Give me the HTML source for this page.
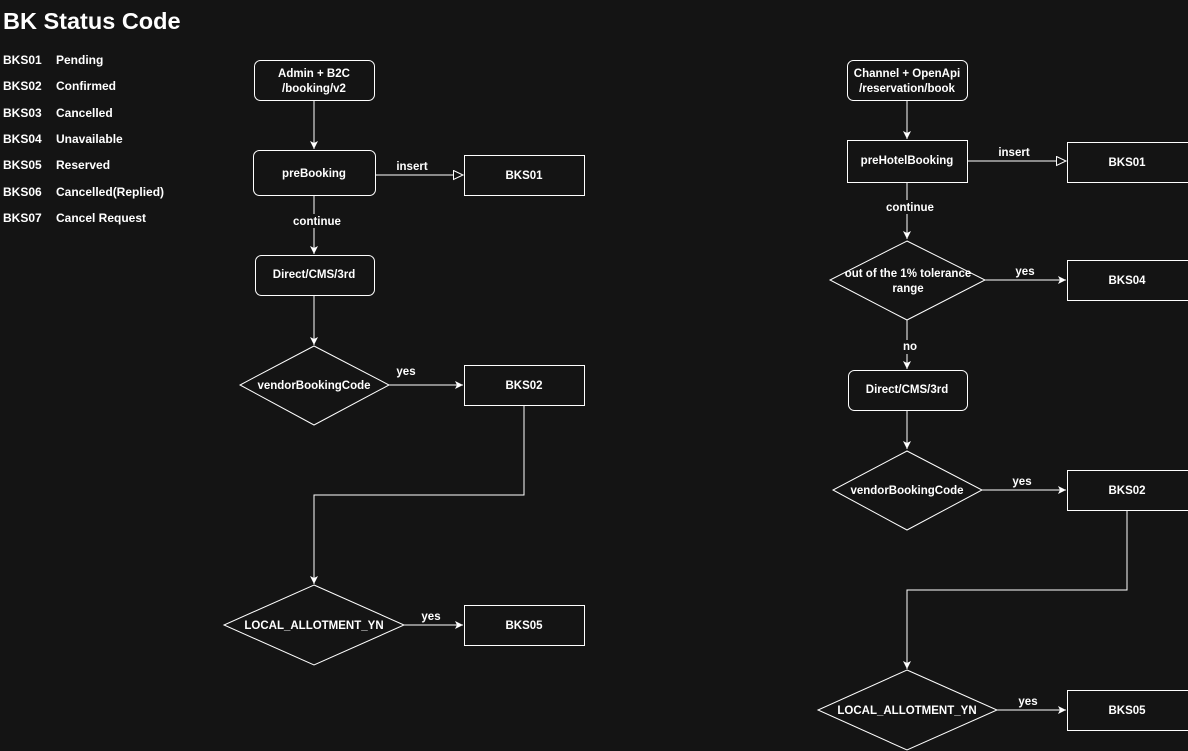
<!DOCTYPE html>
<html><head><meta charset="utf-8"><style>
html,body{margin:0;padding:0;background:#141414;}
svg{display:block}
text{font-family:"Liberation Sans",Arial,sans-serif;fill:#fff;font-size:12px;}
.c{text-anchor:middle;dominant-baseline:central}
.s{fill:none;stroke:#fff;stroke-width:1}
.b{fill:#141414;stroke:#fff;stroke-width:1}
.l{font-size:11.5px;font-weight:bold}
</style></head><body>
<svg width="1188" height="751" viewBox="0 0 1188 751" xmlns="http://www.w3.org/2000/svg">
<defs>
<marker id="a" markerWidth="10" markerHeight="10" refX="8" refY="4" orient="auto" markerUnits="userSpaceOnUse"><path d="M0,0 L8,4 L0,8 L2,4 Z" fill="#fff"/></marker>
<marker id="o" markerWidth="12" markerHeight="12" refX="10" refY="5" orient="auto" markerUnits="userSpaceOnUse"><path d="M0.5,0.5 L10,5 L0.5,9.5 Z" fill="#141414" stroke="#fff"/></marker>
</defs>
<text x="3" y="29" style="font-size:23.5px;font-weight:bold">BK Status Code</text>
<g style="font-weight:bold;font-size:12px">
<text x="3" y="64">BKS01</text><text x="56" y="64">Pending</text>
<text x="3" y="90">BKS02</text><text x="56" y="90">Confirmed</text>
<text x="3" y="117">BKS03</text><text x="56" y="117">Cancelled</text>
<text x="3" y="143">BKS04</text><text x="56" y="143">Unavailable</text>
<text x="3" y="169">BKS05</text><text x="56" y="169">Reserved</text>
<text x="3" y="196">BKS06</text><text x="56" y="196">Cancelled(Replied)</text>
<text x="3" y="222">BKS07</text><text x="56" y="222">Cancel Request</text>
</g>

<path class="s" d="M314,100 V149" marker-end="url(#a)"/>
<path class="s" d="M376,175 H463" marker-end="url(#o)"/>
<path class="s" d="M314,195 V254" marker-end="url(#a)"/>
<path class="s" d="M314,295 V345" marker-end="url(#a)"/>
<path class="s" d="M389,385 H463" marker-end="url(#a)"/>
<path class="s" d="M524,405 V495 H314 V584" marker-end="url(#a)"/>
<path class="s" d="M404,625 H463" marker-end="url(#a)"/>

<rect class="b" x="254.5" y="60.5" width="120" height="40" rx="6"/>
<text class="c l" x="314" y="74">Admin + B2C</text>
<text class="c l" x="314" y="89">/booking/v2</text>
<rect class="b" x="253.5" y="150.5" width="122" height="45" rx="6"/>
<text class="c l" x="314" y="174">preBooking</text>
<rect class="b" x="464.5" y="155.5" width="120" height="40"/>
<text class="c l" x="524" y="176">BKS01</text>
<text class="c l" x="412" y="167">insert</text>
<rect x="294" y="214" width="44" height="14" fill="#141414"/>
<text class="c l" x="317" y="222">continue</text>
<rect class="b" x="255.5" y="255.5" width="119" height="40" rx="6"/>
<text class="c l" x="314" y="275">Direct/CMS/3rd</text>
<polygon class="b" points="314,346 389,385 314,425 240,385"/>
<text class="c l" x="314" y="386">vendorBookingCode</text>
<rect class="b" x="464.5" y="365.5" width="120" height="40"/>
<text class="c l" x="524" y="386">BKS02</text>
<text class="c l" x="406" y="372">yes</text>
<polygon class="b" points="314,585 404,625 314,665 224,625"/>
<text class="c l" x="314" y="626">LOCAL_ALLOTMENT_YN</text>
<rect class="b" x="464.5" y="605.5" width="120" height="40"/>
<text class="c l" x="524" y="626">BKS05</text>
<text class="c l" x="431" y="617">yes</text>

<path class="s" d="M907,100 V139" marker-end="url(#a)"/>
<path class="s" d="M967,161 H1066" marker-end="url(#o)"/>
<path class="s" d="M907,182 V239" marker-end="url(#a)"/>
<path class="s" d="M985,280 H1066" marker-end="url(#a)"/>
<path class="s" d="M907,320 V369" marker-end="url(#a)"/>
<path class="s" d="M907,410 V449" marker-end="url(#a)"/>
<path class="s" d="M982,490 H1066" marker-end="url(#a)"/>
<path class="s" d="M1127,510 V590 H907 V669" marker-end="url(#a)"/>
<path class="s" d="M997,710 H1066" marker-end="url(#a)"/>

<rect class="b" x="847.5" y="60.5" width="120" height="40" rx="6"/>
<text class="c l" x="907" y="74">Channel + OpenApi</text>
<text class="c l" x="907" y="89">/reservation/book</text>
<rect class="b" x="847.5" y="140.5" width="120" height="42"/>
<text class="c l" x="907" y="161">preHotelBooking</text>
<rect class="b" x="1067.5" y="142.5" width="121" height="40"/>
<text class="c l" x="1127" y="163">BKS01</text>
<text class="c l" x="1014" y="153">insert</text>
<rect x="886" y="200" width="44" height="14" fill="#141414"/>
<text class="c l" x="910" y="208">continue</text>
<polygon class="b" points="907,241 985,280 907,320 830,280"/>
<text class="c l" x="908" y="274">out of the 1% tolerance</text>
<text class="c l" x="908" y="289">range</text>
<rect class="b" x="1067.5" y="260.5" width="121" height="40"/>
<text class="c l" x="1127" y="281">BKS04</text>
<text class="c l" x="1025" y="272">yes</text>
<rect x="900" y="340" width="20" height="14" fill="#141414"/>
<text class="c l" x="910" y="347">no</text>
<rect class="b" x="848.5" y="370.5" width="119" height="40" rx="6"/>
<text class="c l" x="907" y="390">Direct/CMS/3rd</text>
<polygon class="b" points="907,451 982,490 907,530 833,490"/>
<text class="c l" x="907" y="491">vendorBookingCode</text>
<rect class="b" x="1067.5" y="470.5" width="121" height="40"/>
<text class="c l" x="1127" y="491">BKS02</text>
<text class="c l" x="1022" y="482">yes</text>
<polygon class="b" points="907,670 997,710 907,750 818,710"/>
<text class="c l" x="907" y="711">LOCAL_ALLOTMENT_YN</text>
<rect class="b" x="1067.5" y="690.5" width="121" height="40"/>
<text class="c l" x="1127" y="711">BKS05</text>
<text class="c l" x="1028" y="702">yes</text>
</svg>
</body></html>
